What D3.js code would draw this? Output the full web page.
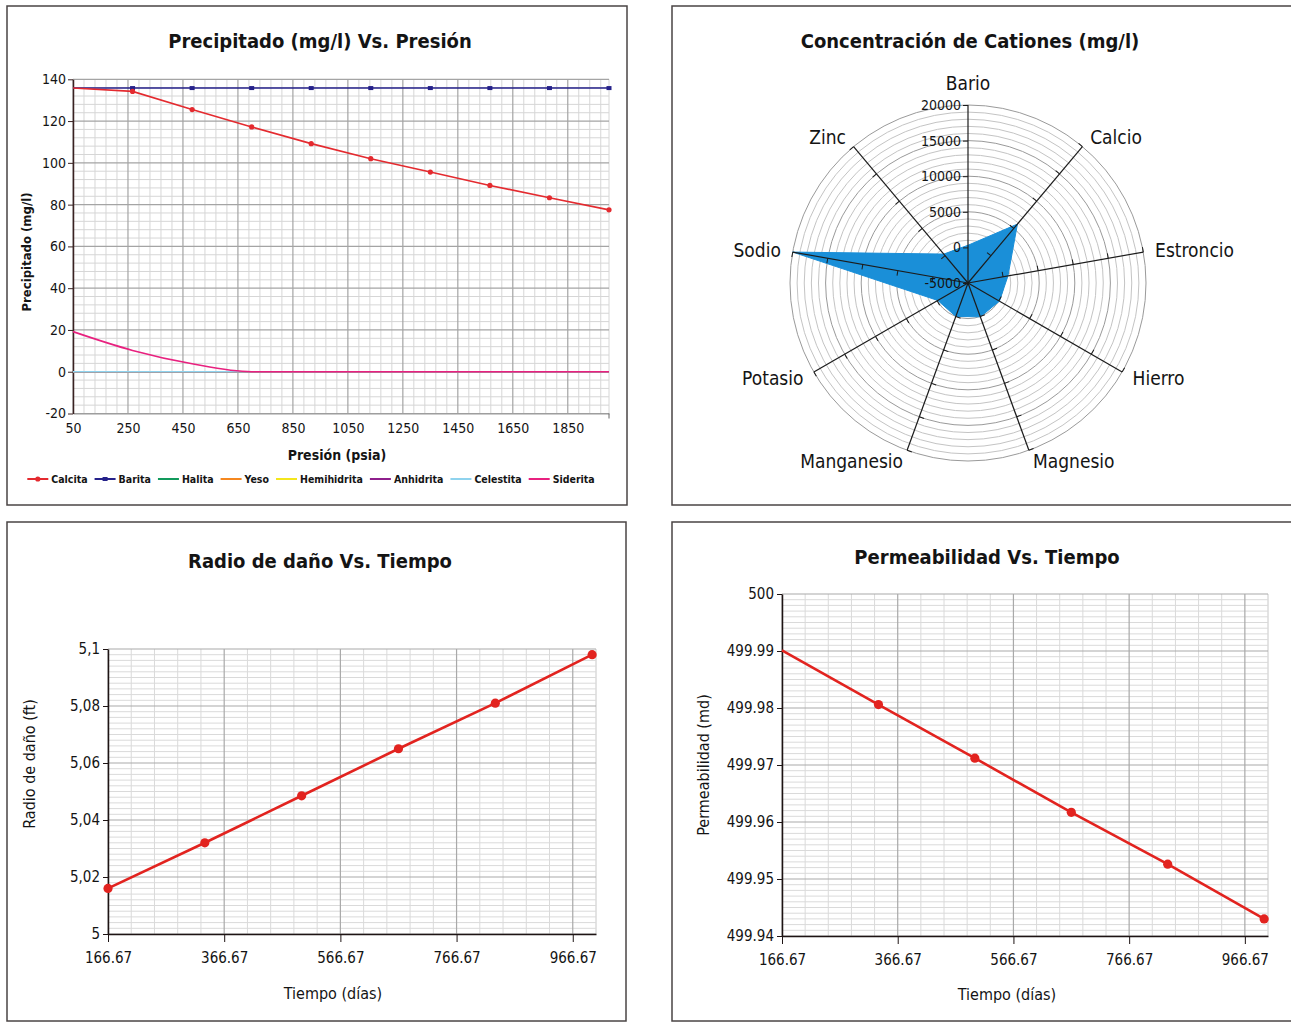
<!DOCTYPE html>
<html lang="es">
<head>
<meta charset="UTF-8">
<title>Precipitado, cationes, radio de daño y permeabilidad</title>
<script src="https://d3js.org/d3.v7.min.js"></script>
<style>
  body { margin: 0; background: #fff; }
  text { font-family: "Liberation Sans Narrow", "DejaVu Sans Condensed", "DejaVu Sans", sans-serif; font-stretch: condensed; fill: #141414; }
</style>
</head>
<body>
<svg width="1291" height="1022"></svg>
<script>
// ---- datos ----
// precipitado vs presion
var presion = [50, 266.67, 483.33, 700, 916.67, 1133.33, 1350, 1566.67, 1783.33, 2000];
var calcita = [135.8, 134.2, 125.5, 117.2, 109.2, 102, 95.6, 89.2, 83.3, 77.5];
var barita = [135.8, 135.8, 135.8, 135.8, 135.8, 135.8, 135.8, 135.8, 135.8, 135.8];
var halita = [0, 0, 0, 0, 0, 0, 0, 0, 0, 0];
var yeso = [0, 0, 0, 0, 0, 0, 0, 0, 0, 0];
var hemihidrita = [0, 0, 0, 0, 0, 0, 0, 0, 0, 0];
var anhidrita = [0, 0, 0, 0, 0, 0, 0, 0, 0, 0];
var celestita = [0, 0, 0, 0, 0, 0, 0, 0, 0, 0];
var siderita = [19.2, 10.2, 3.8, 0, 0, 0, 0, 0, 0, 0];
var presionTicks = [50, 250, 450, 650, 850, 1050, 1250, 1450, 1650, 1850];
var precipTicks = [-20, 0, 20, 40, 60, 80, 100, 120, 140];

// cationes
var cationes = ["Bario", "Calcio", "Estroncio", "Hierro", "Magnesio", "Manganesio", "Potasio", "Sodio", "Zinc"];
var concentracion = [300, 5800, 700, 100, 50, 0, -100, 20000, 300];
var radarTicks = [-5000, 0, 5000, 10000, 15000, 20000];

// tiempo
var tiempo = [166.67, 333.33, 500, 666.67, 833.33, 1000];
var radioDano = [5.016, 5.032, 5.0485, 5.065, 5.081, 5.098];
var permeabilidad = [499.9901, 499.9806, 499.9712, 499.9617, 499.9526, 499.943];
var tiempoTicks = [166.67, 366.67, 566.67, 766.67, 966.67];
var radioTicks = [5, 5.02, 5.04, 5.06, 5.08, 5.1];
var permTicks = [499.94, 499.95, 499.96, 499.97, 499.98, 499.99, 500];

var svg = d3.select("svg");

// marcos de los paneles
var marcos = [[7, 6, 620, 499], [672, 6, 640, 499], [7, 522, 619, 499], [672, 522, 640, 499]];
svg.append("g").selectAll("rect").data(marcos).join("rect")
  .attr("x", d => d[0]).attr("y", d => d[1])
  .attr("width", d => d[2]).attr("height", d => d[3])
  .attr("fill", "none").attr("stroke", "#4a4444").attr("stroke-width", 1.5);

// rejilla: lineas menores y mayores
function rejilla(g, x, y, gx, gy, cMenor, cMayor) {
  var xv = d3.range(gx.n + 1).map(i => ({ v: gx.min + i * gx.step, mayor: i % gx.every === 0 }));
  var yv = d3.range(gy.n + 1).map(i => ({ v: gy.min + i * gy.step, mayor: i % gy.every === 0 }));
  xv.push({ v: x.domain()[1], mayor: false });
  var x0 = x.range()[0], x1 = x.range()[1], y0 = y.range()[0], y1 = y.range()[1];
  [false, true].forEach(function (m) {
    g.append("g").selectAll("line").data(xv.filter(d => d.mayor === m)).join("line")
      .attr("x1", d => x(d.v)).attr("x2", d => x(d.v))
      .attr("y1", y0).attr("y2", y1)
      .attr("stroke", m ? cMayor : cMenor).attr("stroke-width", m ? 1.2 : 1);
    g.append("g").selectAll("line").data(yv.filter(d => d.mayor === m)).join("line")
      .attr("y1", d => y(d.v)).attr("y2", d => y(d.v))
      .attr("x1", x0).attr("x2", x1)
      .attr("stroke", m ? cMayor : cMenor).attr("stroke-width", m ? 1.2 : 1);
  });
}

function estiloEje(g, size, color) {
  g.select(".domain").attr("stroke", color).attr("stroke-width", 1.5);
  g.selectAll(".tick line").attr("stroke", color);
  g.selectAll(".tick text").attr("font-size", size).attr("fill", "#141414")
    .attr("font-family", null);
}

function titulo(x, y, txt) {
  svg.append("text").attr("x", x).attr("y", y).attr("text-anchor", "middle")
    .attr("font-size", 20).attr("font-weight", "bold").text(txt);
}

// ================= Panel 1: precipitado vs presion =================
(function () {
  var g = svg.append("g");
  var x = d3.scaleLinear().domain([50, 2000]).range([73, 609]);
  var y = d3.scaleLinear().domain([-20, 140]).range([413.5, 79.3]);

  rejilla(g, x, y, { min: 50, step: 40, n: 48, every: 5 }, { min: -20, step: 4, n: 40, every: 5 }, "#d6d6d6", "#a4a4a4");

  var ax = g.append("g").attr("transform", "translate(0," + y(-20) + ")")
    .call(d3.axisBottom(x).tickValues(presionTicks.concat([2000])).tickSize(0).tickPadding(10)
      .tickFormat(d => d === 2000 ? "" : String(d)));
  estiloEje(ax, 14, "#999");
  ax.select(".domain").attr("stroke-width", 1);
  ax.append("line").attr("x1", x(2000)).attr("x2", x(2000)).attr("y1", 0).attr("y2", 5).attr("stroke", "#666");

  var ay = g.append("g").attr("transform", "translate(" + x(50) + ",0)")
    .call(d3.axisLeft(y).tickValues(precipTicks).tickSize(5).tickPadding(2).tickSizeOuter(0)
      .tickFormat(d => String(d)));
  estiloEje(ay, 14, "#3a2222");

  var series = [
    { nombre: "Barita", v: barita, color: "#25218a", marca: "square" },
    { nombre: "Halita", v: halita, color: "#129a5c" },
    { nombre: "Yeso", v: yeso, color: "#f5871f" },
    { nombre: "Hemihidrita", v: hemihidrita, color: "#f4e61c" },
    { nombre: "Anhidrita", v: anhidrita, color: "#8e1f8c" },
    { nombre: "Celestita", v: celestita, color: "#8fd3ee" },
    { nombre: "Siderita", v: siderita, color: "#e8217f", curva: true },
    { nombre: "Calcita", v: calcita, color: "#e42a2f", marca: "circle" }
  ];

  series.forEach(function (s) {
    var linea = d3.line().x((d, i) => x(presion[i])).y(d => y(d))
      .curve(s.curva ? d3.curveMonotoneX : d3.curveLinear);
    g.append("path").datum(s.v).attr("d", linea)
      .attr("fill", "none").attr("stroke", s.color).attr("stroke-width", 1.6);
    if (s.marca === "circle") {
      g.append("g").selectAll("circle").data(s.v.slice(1)).join("circle")
        .attr("cx", (d, i) => x(presion[i + 1])).attr("cy", d => y(d)).attr("r", 2.6)
        .attr("fill", s.color);
    } else if (s.marca === "square") {
      g.append("g").selectAll("rect").data(s.v.slice(1)).join("rect")
        .attr("x", (d, i) => x(presion[i + 1]) - 2.5).attr("y", d => y(d) - 2)
        .attr("width", 5).attr("height", 4).attr("fill", s.color);
    }
  });

  svg.append("text").attr("x", 337).attr("y", 460).attr("text-anchor", "middle")
    .attr("font-size", 14).attr("font-weight", "bold").text("Presión (psia)");
  svg.append("text").attr("transform", "translate(31,252) rotate(-90)").attr("text-anchor", "middle")
    .attr("font-size", 13).attr("font-weight", "bold").text("Precipitado (mg/l)");
  titulo(320, 48, "Precipitado (mg/l) Vs. Presión");

  // leyenda
  var orden = ["Calcita", "Barita", "Halita", "Yeso", "Hemihidrita", "Anhidrita", "Celestita", "Siderita"];
  var leg = svg.append("g");
  var pos = 0;
  orden.forEach(function (n) {
    var s = series.find(d => d.nombre === n);
    var it = leg.append("g").attr("transform", "translate(" + pos + ",0)");
    it.append("line").attr("x1", 0).attr("x2", 21).attr("stroke", s.color).attr("stroke-width", 2);
    if (s.marca === "circle") it.append("circle").attr("cx", 10.5).attr("r", 2.6).attr("fill", s.color);
    if (s.marca === "square") it.append("rect").attr("x", 8).attr("y", -2).attr("width", 5).attr("height", 4).attr("fill", s.color);
    var t = it.append("text").attr("x", 24).attr("y", 4).attr("font-size", 10.5).attr("font-weight", "bold").text(n);
    pos += 24 + t.node().getComputedTextLength() + 7;
  });
  leg.attr("transform", "translate(" + (311 - (pos - 7) / 2) + ",479)");
})();

// ================= Panel 2: radar de cationes =================
(function () {
  var cx = 968, cy = 283;
  var g = svg.append("g").attr("transform", "translate(" + cx + "," + cy + ")");
  var r = d3.scaleLinear().domain([-5000, 20000]).range([0, 178]);
  var ang = i => i * 2 * Math.PI / cationes.length;

  var anillos = d3.range(-4000, 20001, 1000);
  g.append("g").selectAll("circle").data(anillos).join("circle")
    .attr("r", d => r(d)).attr("fill", "none")
    .attr("stroke", d => d % 5000 === 0 ? "#9a9a9a" : "#c4c4c4").attr("stroke-width", 1);

  var area = d3.lineRadial().angle((d, i) => ang(i)).radius(d => r(d)).curve(d3.curveLinearClosed);
  g.append("path").datum(concentracion).attr("d", area).attr("fill", "#1a8fd8").attr("stroke", "#1a8fd8");

  var ejes = g.append("g").selectAll("g").data(cationes).join("g")
    .attr("transform", (d, i) => "rotate(" + (ang(i) * 180 / Math.PI) + ")");
  ejes.append("line").attr("y1", 0).attr("y2", -r(20000)).attr("stroke", "#1c1c1c").attr("stroke-width", 1.2);
  ejes.each(function (d, i) {
    if (i === 0) return;
    d3.select(this).selectAll("line.t").data(radarTicks.slice(1)).join("line").attr("class", "t")
      .attr("x1", 0).attr("x2", -5).attr("y1", v => -r(v)).attr("y2", v => -r(v))
      .attr("stroke", "#1c1c1c");
  });

  var ay = g.append("g").call(d3.axisLeft(d3.scaleLinear().domain([-5000, 20000]).range([0, -178]))
    .tickValues(radarTicks).tickSize(5).tickPadding(2).tickSizeOuter(0).tickFormat(d => String(d)));
  ay.select(".domain").remove();
  estiloEje(ay, 14, "#1c1c1c");

  g.append("g").selectAll("text").data(cationes).join("text")
    .attr("x", (d, i) => (i === 0 ? 200 : 190) * Math.sin(ang(i)))
    .attr("y", (d, i) => -(i === 0 ? 200 : 190) * Math.cos(ang(i)))
    .attr("dy", "0.35em")
    .attr("text-anchor", (d, i) => Math.sin(ang(i)) > 0.1 ? "start" : (Math.sin(ang(i)) < -0.1 ? "end" : "middle"))
    .attr("font-size", 19).text(d => d);

  titulo(970, 48, "Concentración de Cationes (mg/l)");
})();

// ================= Panels 3 y 4: series de tiempo =================
function serieTiempo(cfg) {
  var g = svg.append("g");
  var x = d3.scaleLinear().domain([166.67, 1006.67]).range(cfg.xr);
  var y = d3.scaleLinear().domain(cfg.dom).range(cfg.yr);
  rejilla(g, x, y, { min: 166.67, step: 40, n: 21, every: 5 }, cfg.gy, "#dadada", "#a9a9a9");

  var ax = g.append("g").attr("transform", "translate(0," + cfg.yr[0] + ")")
    .call(d3.axisBottom(x).tickValues(tiempoTicks).tickSize(8).tickPadding(10).tickSizeOuter(0)
      .tickFormat(d => d.toFixed(2)));
  estiloEje(ax, 15, "#1e1414");
  var ay = g.append("g").attr("transform", "translate(" + cfg.xr[0] + ",0)")
    .call(d3.axisLeft(y).tickValues(cfg.ticks).tickSize(5).tickPadding(3).tickSizeOuter(0).tickFormat(cfg.fmt));
  estiloEje(ay, 15, "#1e1414");

  var linea = d3.line().x((d, i) => x(tiempo[i])).y(d => y(d));
  g.append("path").datum(cfg.v).attr("d", linea).attr("fill", "none")
    .attr("stroke", "#e2231f").attr("stroke-width", 2.6);
  g.append("g").selectAll("circle").data(cfg.v).join("circle")
    .attr("cx", (d, i) => x(tiempo[i])).attr("cy", d => y(d)).attr("r", 4.6)
    .attr("fill", "#e2231f").attr("display", (d, i) => (i === 0 && !cfg.primera) ? "none" : null);

  titulo(cfg.tx, cfg.ty, cfg.titulo);
  svg.append("text").attr("x", cfg.xlx).attr("y", cfg.xly).attr("text-anchor", "middle")
    .attr("font-size", 16).text("Tiempo (días)");
  svg.append("text").attr("transform", "translate(" + cfg.ylx + "," + cfg.yly + ") rotate(-90)")
    .attr("text-anchor", "middle").attr("font-size", 16).text(cfg.ytitulo);
}

serieTiempo({
  v: radioDano, dom: [5, 5.1], xr: [108, 596], yr: [934, 649],
  gy: { min: 5, step: 0.002, n: 50, every: 10 }, ticks: radioTicks,
  fmt: d => String(+d.toFixed(2)).replace(".", ","), primera: true,
  titulo: "Radio de daño Vs. Tiempo", tx: 320, ty: 568,
  xlx: 333, xly: 999, ytitulo: "Radio de daño (ft)", ylx: 35, yly: 764
});

serieTiempo({
  v: permeabilidad, dom: [499.94, 500], xr: [782, 1268], yr: [936, 594],
  gy: { min: 499.94, step: 0.001, n: 60, every: 10 }, ticks: permTicks,
  fmt: d => String(+d.toFixed(2)), primera: false,
  titulo: "Permeabilidad Vs. Tiempo", tx: 987, ty: 564,
  xlx: 1007, xly: 1000, ytitulo: "Permeabilidad (md)", ylx: 709, yly: 765
});
</script>
</body>
</html>
